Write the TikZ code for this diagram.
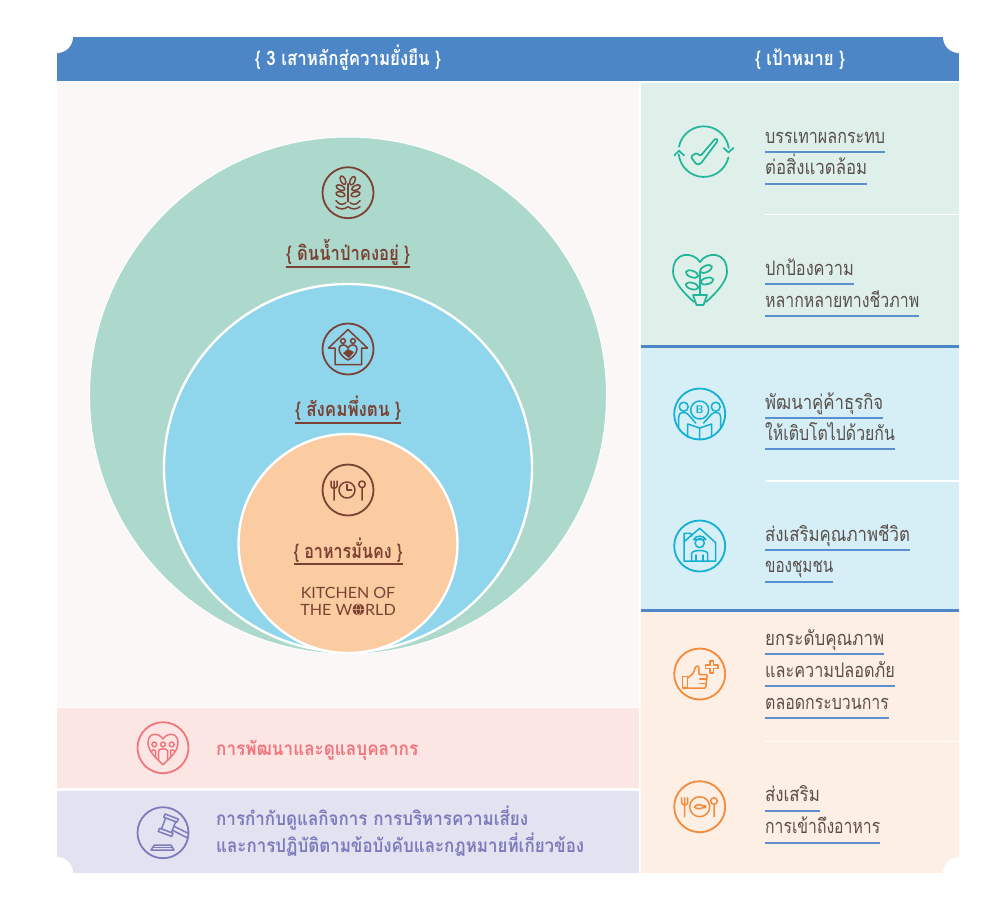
\documentclass[tikz,border=0pt]{standalone}
\usepackage{graphicx}
\usepackage{fontspec}
\newfontfamily\thaifont[Script=Thai]{Loma}
\newfontfamily\logofont{Lato}
\definecolor{headblue}{HTML}{4C86C6}
\definecolor{paper}{HTML}{FAF7F6}
\definecolor{soilgreen}{HTML}{ADD9CD}
\definecolor{socialblue}{HTML}{8FD5EC}
\definecolor{foodorange}{HTML}{FBCBA1}
\definecolor{pillarbrown}{HTML}{7B4234}
\definecolor{goalgreen}{HTML}{DFEFEA}
\definecolor{goalblue}{HTML}{D6EEF5}
\definecolor{goalorange}{HTML}{FEEFE4}
\definecolor{peoplepink}{HTML}{FCE6E4}
\definecolor{peopletext}{HTML}{F0757C}
\definecolor{lawlilac}{HTML}{E3E2F0}
\definecolor{lawtext}{HTML}{7C7BBC}
\definecolor{icongreen}{HTML}{1FB597}
\definecolor{iconblue}{HTML}{12B0D2}
\definecolor{iconorange}{HTML}{F58A3A}
\definecolor{goaltext}{HTML}{58504C}
\definecolor{ruleblue}{HTML}{5B8FD0}
\newcommand{\fitw}[2]{\resizebox{#1pt}{\height}{#2}}

\begin{document}
\begin{tikzpicture}
  [
    x = 1pt, y = -1pt,
    line join = round, line cap = round,
    disc/.style = {circle, draw = white, line width = 2.4pt, inner sep = 0pt},
    ring/.style = {circle, draw, line width = 1.8pt, inner sep = 0pt, minimum size = 51pt},
    iconline/.style = {line width = 1.5pt},
    headtext/.style = {anchor = base, inner sep = 0pt, text = white, font = \thaifont\bfseries\fontsize{20}{22}\selectfont},
    pillartext/.style = {anchor = base, inner sep = 0pt, text = pillarbrown, font = \thaifont\bfseries\fontsize{20}{22}\selectfont},
    pillarrule/.style = {draw = pillarbrown, line width = 2pt, line cap = butt},
    logotext/.style = {anchor = base, inner sep = 0pt, text = pillarbrown, font = \logofont\fontsize{15.5}{17}\selectfont},
    goaltxt/.style = {anchor = base west, inner sep = 0pt, text = goaltext, font = \thaifont\fontsize{20}{22}\selectfont},
    goalrule/.style = {draw = ruleblue, line width = 2pt, line cap = butt},
    sidetext/.style = {anchor = base west, inner sep = 0pt, font = \thaifont\bfseries\fontsize{19}{22}\selectfont}
  ]
  \useasboundingbox (0,0) rectangle (1000,919);
  \fill[white] (0,0) rectangle (1000,919);

  % panels
  \fill[headblue] (57,37) rectangle (959,81);
  \fill[paper] (57,81) rectangle (639,707);
  \fill[peoplepink] (57,708) rectangle (639,788);
  \fill[lawlilac] (57,791) rectangle (639,873);
  \fill[goalgreen] (641,83) rectangle (959,345);
  \fill[goalblue] (641,348) rectangle (959,609);
  \fill[goalorange] (641,612) rectangle (959,873);
  \fill[headblue] (641,345) rectangle (959,348);
  \fill[headblue] (641,609) rectangle (959,612);
  \draw[white, line width = 1.5pt] (765,214.5) -- (959,214.5);
  \draw[white, line width = 1.5pt] (766,481) -- (959,481);
  \draw[white, line width = 1.5pt] (766,741.5) -- (959,741.5);
  \foreach \cx/\cy in {57/37, 959/37, 57/873, 959/873}
    \fill[white] (\cx,\cy) circle (16);

  % pillars
  \node[disc, fill = soilgreen, minimum size = 517pt, line width = 1pt] (soilDisc) at (348,395.5) {};
  \node[disc, fill = socialblue, minimum size = 368pt] (socialDisc) at (348,468) {};
  \node[disc, fill = foodorange, minimum size = 219pt] (foodDisc) at (348,543.5) {};

  \node[headtext] (headPillar) at (348,65.7) {\fitw{186}{\{ 3 เสาหลักสู่ความยั่งยืน \}}};
  \node[headtext] (headGoal) at (800,65.7) {\fitw{90}{\{ เป้าหมาย \}}};

  \node[pillartext] (soilText) at (348,260) {\fitw{124}{\{ ดินน้ำป่าคงอยู่ \}}};
  \draw[pillarrule] (286,267) -- (410,267);
  \node[pillartext] (socialText) at (348,416.7) {\fitw{106}{\{ สังคมพึ่งตน \}}};
  \draw[pillarrule] (295,423.3) -- (401,423.3);
  \node[pillartext] (foodText) at (348,558) {\fitw{109}{\{ อาหารมั่นคง \}}};
  \draw[pillarrule] (293.5,564.3) -- (402.5,564.3);
  \node[logotext] (logoA) at (348,598.7) {\fitw{94.5}{KITCHEN OF}};
  \node[logotext] (logoB) at (348,615) {\fitw{95.5}{THE WORLD}};
  \fill[pillarbrown] (358.3,609.5) circle (5.6);
  \draw[foodorange, line width = 0.5pt] (358.3,609.5) ellipse (2.4 and 5.6) (352.7,609.5) -- (363.9,609.5);

  % soil icon
  \node[ring, draw = pillarbrown] (soilRing) at (348,192.7) {};
  \begin{scope}[shift = {(348,192.7)}, iconline, draw = pillarbrown]
    \draw (0,9) -- (0,-9);
    \foreach \lx/\ly/\la in {-5/-12.5/-65, 4.5/-12/65, -7.5/-5/-25, 8/-5/25, -7.5/1.5/-15, 7.5/1.5/15}
      \draw[rotate around = {\la:(\lx,\ly)}] (\lx,\ly) ellipse (4.6 and 2.4);
    \draw (-12,8) .. controls (-8,13) and (-5,12) .. (-2,10) (2,10) .. controls (5,12) and (8,13) .. (12,8);
    \draw (-12,14) .. controls (-8,17) and (-4,17) .. (0,14) .. controls (4,17) and (8,17) .. (12,14);
  \end{scope}

  % social icon
  \node[ring, draw = pillarbrown] (socialRing) at (348,349) {};
  \begin{scope}[shift = {(348,349)}, iconline, draw = pillarbrown]
    \draw (-13,-1) -- (-19.5,-1) -- (0,-19.5) -- (19.5,-1) -- (13.5,-1) -- (13.5,15.5) -- (-13,15.5) -- cycle;
    \draw (-5,-8) circle (2.4) (5,-8) circle (2.4);
    \draw (0,11) .. controls (-8,7) and (-10,1) .. (-8.5,-2) .. controls (-7,-5) and (-2,-5) .. (0,-1) .. controls (2,-5) and (7,-5) .. (8.5,-2) .. controls (10,1) and (8,7) .. (0,11);
    \fill[pillarbrown] (-5,4) -- (0,0) -- (6,3) -- (1,9) -- cycle;
  \end{scope}

  % food icon
  \node[ring, draw = pillarbrown] (foodRing) at (348,490) {};
  \begin{scope}[shift = {(348,490)}, iconline, draw = pillarbrown]
    \draw (-1,0) circle (8);
    \draw (-1,-5.5) -- (-1,0) -- (3.5,0);
    \draw (-17,-9) -- (-17,-4) .. controls (-17,-1) and (-11,-1) .. (-11,-4) -- (-11,-9) (-14,-9) -- (-14,10);
    \draw (14,-5.7) circle (3.3) (14,-2.4) -- (14,10);
  \end{scope}

  % goal texts
  \node[goaltxt] (goalAa) at (765,143) {\fitw{120}{บรรเทาผลกระทบ}};
  \draw[goalrule] (765,152) -- (885,152);
  \node[goaltxt] (goalAb) at (765,174) {\fitw{102}{ต่อสิ่งแวดล้อม}};
  \draw[goalrule] (765,183.7) -- (867,183.7);
  \node[goaltxt] (goalBa) at (765,275.7) {\fitw{88.7}{ปกป้องความ}};
  \draw[goalrule] (765,284.3) -- (853.7,284.3);
  \node[goaltxt] (goalBb) at (765,307) {\fitw{154}{หลากหลายทางชีวภาพ}};
  \draw[goalrule] (765,316) -- (919,316);
  \node[goaltxt] (goalCa) at (765,409) {\fitw{118}{พัฒนาคู่ค้าธุรกิจ}};
  \draw[goalrule] (765,417.7) -- (883,417.7);
  \node[goaltxt] (goalCb) at (765,440.7) {\fitw{129.7}{ให้เติบโตไปด้วยกัน}};
  \draw[goalrule] (765,449.3) -- (894.7,449.3);
  \node[goaltxt] (goalDa) at (765,541) {\fitw{144.7}{ส่งเสริมคุณภาพชีวิต}};
  \draw[goalrule] (765,550) -- (909.7,550);
  \node[goaltxt] (goalDb) at (765,572.3) {\fitw{68}{ของชุมชน}};
  \draw[goalrule] (765,582) -- (833,582);
  \node[goaltxt] (goalEa) at (765,645) {\fitw{119}{ยกระดับคุณภาพ}};
  \draw[goalrule] (765,654) -- (884,654);
  \node[goaltxt] (goalEb) at (765,677) {\fitw{129.7}{และความปลอดภัย}};
  \draw[goalrule] (765,686.3) -- (894.7,686.3);
  \node[goaltxt] (goalEc) at (765,709) {\fitw{123.7}{ตลอดกระบวนการ}};
  \draw[goalrule] (765,718.3) -- (888.7,718.3);
  \node[goaltxt] (goalFa) at (765,801.7) {\fitw{54.7}{ส่งเสริม}};
  \draw[goalrule] (765,810.7) -- (819.7,810.7);
  \node[goaltxt] (goalFb) at (765,833) {\fitw{115}{การเข้าถึงอาหาร}};
  \draw[goalrule] (765,842.7) -- (880,842.7);

  % check icon
  \begin{scope}[shift = {(703.7,151.7)}, draw = icongreen, line width = 1.7pt]
    \draw (-24.7,-5) arc [start angle = -169, end angle = -8, radius = 25.2];
    \draw (24.7,5.7) arc [start angle = 13, end angle = 174, radius = 25.2];
    \draw (20,-3.7) -- (24.7,0.7) -- (29.7,-3.7);
    \draw (-29.3,3.7) -- (-24.7,-1) -- (-19.7,3.7);
    \draw[rounded corners = 1.5pt] (-13,5) -- (-7,1) -- (-3.5,4.5) -- (12,-13.5) -- (14.5,-11.5) -- (-3,12) -- (-7,13) -- cycle;
  \end{scope}

  % plant heart icon
  \begin{scope}[shift = {(700,280)}, draw = icongreen, line width = 1.7pt]
    \draw (0,-18) .. controls (-6,-28) and (-27,-30) .. (-27,-8) .. controls (-27,2) and (-14,15) .. (-6,22);
    \draw (0,-18) .. controls (6,-28) and (27,-30) .. (27,-8) .. controls (27,2) and (14,15) .. (6,22);
    \draw (-7,15) -- (7,15) -- (3.5,25) -- (-3.5,25) -- cycle;
    \draw (0,15) -- (0,-9);
    \foreach \lx/\ly/\la in {-8/-6/-20, 6/-11/25, -8/6/-15, 7/1/15}
      \draw[rotate around = {\la:(\lx,\ly)}] (\lx,\ly) ellipse (6.5 and 3.2);
  \end{scope}

  % partner icon
  \node[ring, draw = iconblue] (partnerRing) at (699.7,414) {};
  \begin{scope}[shift = {(699.7,414)}, iconline, draw = iconblue]
    \draw (0,-4) circle (9);
    \node[inner sep = 0pt, text = iconblue, font = \sffamily\bfseries\fontsize{11}{11}\selectfont] (partnerB) at (0,-4) {B};
    \draw (-16,-7.3) circle (4.5) (16,-7.3) circle (4.5);
    \draw (-21,14) -- (-21,3) .. controls (-21,-2) and (-15,-3) .. (-12,0) -- (-4,9);
    \draw (21,14) -- (21,3) .. controls (21,-2) and (15,-3) .. (12,0) -- (4,9);
    \draw (-12,10) -- (0,14) -- (12,10) -- (12,23) (-12,10) -- (-12,23) (0,14) -- (0,25);
  \end{scope}

  % community icon
  \node[ring, draw = iconblue] (communityRing) at (699.7,546) {};
  \begin{scope}[shift = {(699.7,546)}, iconline, draw = iconblue]
    \draw (-15.7,-4.3) -- (0,-17.7) -- (16,-3.3) -- (16,15) -- (-15.7,15) -- cycle;
    \draw (-15.7,-4.3) -- (-15.7,-12.7) -- (-9,-12.7) -- (-8,-10);
    \draw (0,-3) circle (4.6);
    \draw (-6,-6.5) -- (6,-6.5) .. controls (4,-11) and (-4,-11) .. (-6,-6.5);
    \draw (-8,15) -- (-8,7.5) .. controls (-8,3.5) and (8,3.5) .. (8,7.5) -- (8,15);
    \draw (-3.5,15) -- (-3.5,9) (3.5,15) -- (3.5,9);
  \end{scope}

  % quality icon
  \node[ring, draw = iconorange] (qualityRing) at (699.7,674) {};
  \begin{scope}[shift = {(699.7,674)}, iconline, draw = iconorange]
    \draw (-17,2.3) rectangle (-12,14);
    \draw[rounded corners = 1pt] (-12,4) -- (-6.3,-1) -- (-4,-7.7) -- (-1,-8) -- (-0.7,0.7) -- (7.5,0.7) -- (6,14) -- (-12,14);
    \draw (0,5) -- (7,5) (0,9.5) -- (6.5,9.5);
    \draw (10.5,-13) -- (14,-13) -- (14,-8.8) -- (18.5,-8.8) -- (18.5,-5.3) -- (14,-5.3) -- (14,-1) -- (10.5,-1) -- (10.5,-5.3) -- (6,-5.3) -- (6,-8.8) -- (10.5,-8.8) -- cycle;
  \end{scope}

  % access icon
  \node[ring, draw = iconorange] (accessRing) at (699.7,806.7) {};
  \begin{scope}[shift = {(699.7,806.7)}, iconline, draw = iconorange]
    \draw (0,0) circle (10);
    \draw (-5,0) .. controls (-4,-2.5) and (1,-2.5) .. (3,-1) -- (6,-0.8) -- (6,0.8) -- (3,1) .. controls (1,2.5) and (-4,2.5) .. (-5,0);
    \draw (-18,-9) -- (-18,-4) .. controls (-18,-1) and (-12,-1) .. (-12,-4) -- (-12,-9) (-15,-9) -- (-15,10);
    \draw (14.3,-5.7) circle (3.3) (14.3,-2.4) -- (14.3,10);
  \end{scope}

  % people and law
  \node[sidetext, text = peopletext] (peopleText) at (216,755) {\fitw{202}{การพัฒนาและดูแลบุคลากร}};
  \node[sidetext, text = lawtext] (lawTextA) at (216,825) {\fitw{312}{การกำกับดูแลกิจการ การบริหารความเสี่ยง}};
  \node[sidetext, text = lawtext] (lawTextB) at (216,852) {\fitw{368}{และการปฏิบัติตามข้อบังคับและกฎหมายที่เกี่ยวข้อง}};

  \node[ring, draw = peopletext] (peopleRing) at (163,747.7) {};
  \begin{scope}[shift = {(163,747.7)}, iconline, draw = peopletext]
    \draw (0,-8.7) .. controls (-5,-16) and (-15,-15) .. (-15,-5) .. controls (-15,4) and (-6,11) .. (0,17) .. controls (6,11) and (15,4) .. (15,-5) .. controls (15,-15) and (5,-16) .. (0,-8.7);
    \foreach \hx in {-8.7, 0, 8.7}
      \draw (\hx,-3.3) circle (2.4);
    \draw (-4.5,13) -- (-4.5,3) .. controls (-4.5,0.5) and (4.5,0.5) .. (4.5,3) -- (4.5,13);
    \draw (-12,4) .. controls (-11,1.5) and (-8,1.5) .. (-7.5,3) -- (-7.5,10);
    \draw (12,4) .. controls (11,1.5) and (8,1.5) .. (7.5,3) -- (7.5,10);
  \end{scope}

  \node[ring, draw = lawtext] (lawRing) at (163,832.7) {};
  \begin{scope}[shift = {(163,832.7)}, iconline, draw = lawtext]
    \draw (2,-18.7) -- (15.3,-13.7) -- (14,-10.5) -- (0.8,-15.5) -- cycle;
    \draw (-4.7,-1.3) -- (8.7,3.7) -- (10,0.5) -- (-3.4,-4.5) -- cycle;
    \draw (2.5,-14.5) -- (-1.5,-3.8) (12.5,-10.8) -- (8.5,-0.2);
    \draw (11,-6.5) -- (25,0.5) (9.5,-2.5) -- (25,5.5);
    \draw (-8.7,12.3) -- (8,12.3) -- (11,17.3) -- (-12,17.3) -- cycle;
    \draw (-9.5,14.8) -- (9.5,14.8);
  \end{scope}
\end{tikzpicture}
\end{document}
